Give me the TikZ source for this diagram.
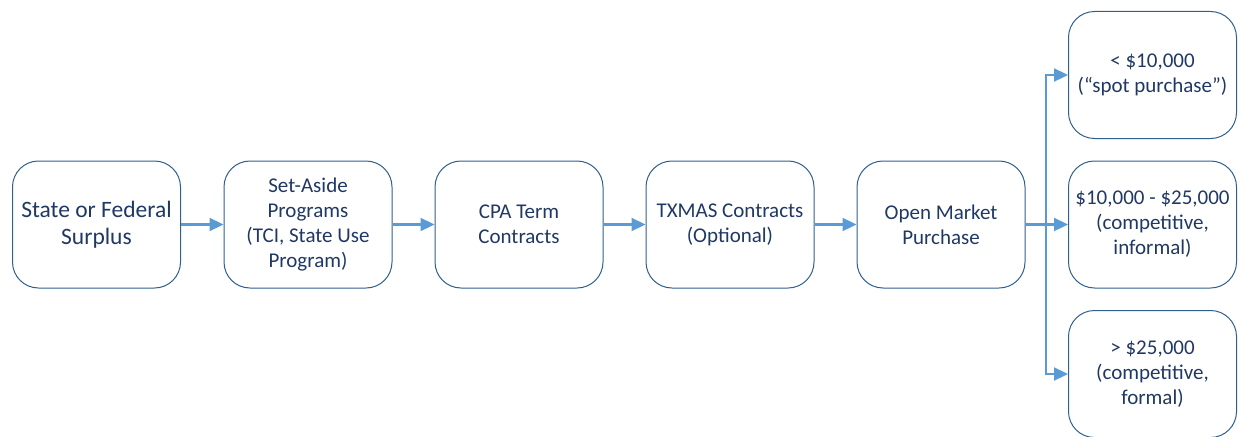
\documentclass[tikz,border=0pt]{standalone}
\usepackage{fontspec}
\setmainfont{Carlito}
\usetikzlibrary{arrows.meta}
\definecolor{boxline}{HTML}{2F5F8F}
\definecolor{txt}{HTML}{1F3864}
\definecolor{arr}{HTML}{5B9BD5}
\tikzset{
  stepbox/.style={draw=boxline, line width=1pt, rounded corners=26pt, minimum width=168pt, minimum height=127pt, align=center, text=txt, font=\fontsize{21}{25}\selectfont, inner sep=0pt},
  conn/.style={draw=arr, line width=2.2pt, -{Triangle[length=14pt,width=13pt]}},
  plain/.style={draw=arr, line width=2.2pt}
}
\begin{document}
\begin{tikzpicture}[x=1pt,y=-1pt]
\useasboundingbox (0,0) rectangle (1238,436);
\node[stepbox, font=\fontsize{23.5}{27.5}\selectfont] (a) at (96.5,224.5) {State or Federal\\Surplus};
\node[stepbox] (b) at (308,224.5) {Set-Aside\\Programs\\(TCI, State Use\\Program)};
\node[stepbox] (c) at (519,224.5) {CPA Term\\Contracts};
\node[stepbox] (d) at (730,224.5) {TXMAS Contracts\\(Optional)};
\node[stepbox] (e) at (941,224.5) {Open Market\\Purchase};
\node[stepbox] (f) at (1152.5,75) {< \$10,000\\(“spot purchase”)};
\node[stepbox] (g) at (1152.5,224.5) {\$10,000 - \$25,000\\(competitive,\\informal)};
\node[stepbox] (h) at (1152.5,374) {> \$25,000\\(competitive,\\formal)};
\draw[conn] (a) -- (b);
\draw[conn] (b) -- (c);
\draw[conn] (c) -- (d);
\draw[conn] (d) -- (e);
\draw[conn] (e) -- (g);
\coordinate (j) at (1046,224.5);
\draw[conn] (j) |- (f.west);
\draw[conn] (j) |- (h.west);
\end{tikzpicture}
\end{document}
